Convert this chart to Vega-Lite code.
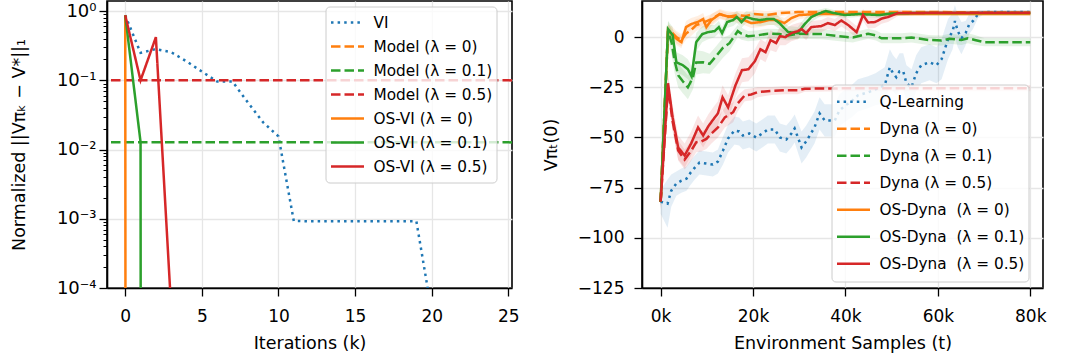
{
  "$schema": "https://vega.github.io/schema/vega-lite/v6.json",
  "background": "white",
  "padding": {"left": 9, "top": 0, "right": 0, "bottom": 0},
  "spacing": 130,
  "bounds": "flush",
  "config": {
    "font": "DejaVu Sans",
    "view": {"stroke": "black", "strokeWidth": 1.6},
    "axis": {
      "labelFont": "DejaVu Sans", "labelFontSize": 17, "labelColor": "black",
      "titleFont": "DejaVu Sans", "titleFontSize": 17.5, "titleFontWeight": "normal", "titleColor": "black",
      "domainColor": "black", "domainWidth": 1.6, "tickColor": "black", "tickWidth": 1.3, "tickSize": 8,
      "gridColor": "#e6e6e6", "gridWidth": 1.3, "labelOverlap": false, "labelFlush": false
    },
    "legend": {
      "labelFont": "DejaVu Sans", "labelFontSize": 15.3, "labelColor": "black", "labelLimit": 400,
      "symbolType": "stroke", "symbolSize": 1089, "symbolStrokeWidth": 2.5,
      "fillColor": "rgba(255,255,255,0.8)", "strokeColor": "#cccccc", "cornerRadius": 4,
      "padding": 4, "labelOffset": 8, "titlePadding": 0, "rowPadding": 0
    }
  },
  "datasets": {
    "left": [
      {"s": "VI", "k": 0, "v": 0.87}, {"s": "VI", "k": 1, "v": 0.25}, {"s": "VI", "k": 2, "v": 0.283},
      {"s": "VI", "k": 3, "v": 0.255}, {"s": "VI", "k": 4, "v": 0.188}, {"s": "VI", "k": 5, "v": 0.134},
      {"s": "VI", "k": 6, "v": 0.096}, {"s": "VI", "k": 7, "v": 0.096}, {"s": "VI", "k": 8, "v": 0.048},
      {"s": "VI", "k": 9, "v": 0.0247}, {"s": "VI", "k": 10, "v": 0.0155}, {"s": "VI", "k": 11, "v": 0.00093},
      {"s": "VI", "k": 12, "v": 0.00092}, {"s": "VI", "k": 13, "v": 0.00092}, {"s": "VI", "k": 14, "v": 0.00092},
      {"s": "VI", "k": 15, "v": 0.00092}, {"s": "VI", "k": 16, "v": 0.00092}, {"s": "VI", "k": 17, "v": 0.00092},
      {"s": "VI", "k": 18, "v": 0.00092}, {"s": "VI", "k": 19, "v": 0.00092}, {"s": "VI", "k": 20, "v": 0.000045},
      {"s": "OS-VI (λ = 0)", "k": 0, "v": 0.87}, {"s": "OS-VI (λ = 0)", "k": 1, "v": 1e-300},
      {"s": "OS-VI (λ = 0.1)", "k": 0, "v": 0.87}, {"s": "OS-VI (λ = 0.1)", "k": 1, "v": 0.0128}, {"s": "OS-VI (λ = 0.1)", "k": 2, "v": 1e-300},
      {"s": "OS-VI (λ = 0.5)", "k": 0, "v": 0.87}, {"s": "OS-VI (λ = 0.5)", "k": 1, "v": 0.1}, {"s": "OS-VI (λ = 0.5)", "k": 2, "v": 0.42},
      {"s": "OS-VI (λ = 0.5)", "k": 3, "v": 0.00005}, {"s": "OS-VI (λ = 0.5)", "k": 4, "v": 1e-300}
    ],
    "leftRef": [
      {"s": "Model (λ = 0)", "v": 1e-8},
      {"s": "Model (λ = 0.1)", "v": 0.0127},
      {"s": "Model (λ = 0.5)", "v": 0.1}
    ],
    "right": [
      {"s":"Q-Learning","t":0,"v":-82,"lo":-88,"hi":-76},
      {"s":"Q-Learning","t":1500,"v":-83,"lo":-95,"hi":-71},
      {"s":"Q-Learning","t":2300,"v":-76.5,"lo":-84.5,"hi":-68.5},
      {"s":"Q-Learning","t":3400,"v":-73,"lo":-79,"hi":-67},
      {"s":"Q-Learning","t":4500,"v":-71.5,"lo":-77.5,"hi":-65.5},
      {"s":"Q-Learning","t":5600,"v":-70.5,"lo":-76.5,"hi":-64.5},
      {"s":"Q-Learning","t":6500,"v":-67.5,"lo":-73.5,"hi":-61.5},
      {"s":"Q-Learning","t":7400,"v":-65,"lo":-71,"hi":-59},
      {"s":"Q-Learning","t":8400,"v":-62.5,"lo":-68.5,"hi":-56.5},
      {"s":"Q-Learning","t":9900,"v":-63,"lo":-69,"hi":-57},
      {"s":"Q-Learning","t":11300,"v":-63.5,"lo":-69.5,"hi":-57.5},
      {"s":"Q-Learning","t":12400,"v":-62,"lo":-68,"hi":-56},
      {"s":"Q-Learning","t":13500,"v":-56.5,"lo":-63.5,"hi":-49.5},
      {"s":"Q-Learning","t":14600,"v":-50.5,"lo":-57.5,"hi":-43.5},
      {"s":"Q-Learning","t":16000,"v":-46.5,"lo":-53.5,"hi":-39.5},
      {"s":"Q-Learning","t":17000,"v":-47,"lo":-54,"hi":-40},
      {"s":"Q-Learning","t":17800,"v":-49,"lo":-56,"hi":-42},
      {"s":"Q-Learning","t":19200,"v":-48,"lo":-55,"hi":-41},
      {"s":"Q-Learning","t":20700,"v":-50,"lo":-57,"hi":-43},
      {"s":"Q-Learning","t":22000,"v":-48,"lo":-55,"hi":-41},
      {"s":"Q-Learning","t":23200,"v":-46,"lo":-53,"hi":-39},
      {"s":"Q-Learning","t":24700,"v":-46,"lo":-53,"hi":-39},
      {"s":"Q-Learning","t":25800,"v":-50,"lo":-57,"hi":-43},
      {"s":"Q-Learning","t":27200,"v":-51,"lo":-58,"hi":-44},
      {"s":"Q-Learning","t":28300,"v":-48,"lo":-55,"hi":-41},
      {"s":"Q-Learning","t":29000,"v":-45.5,"lo":-52.5,"hi":-38.5},
      {"s":"Q-Learning","t":30500,"v":-55,"lo":-63,"hi":-47},
      {"s":"Q-Learning","t":31500,"v":-52,"lo":-60,"hi":-44},
      {"s":"Q-Learning","t":33300,"v":-45,"lo":-53,"hi":-37},
      {"s":"Q-Learning","t":34400,"v":-38,"lo":-46,"hi":-30},
      {"s":"Q-Learning","t":35500,"v":-41.5,"lo":-49.5,"hi":-33.5},
      {"s":"Q-Learning","t":37700,"v":-41.5,"lo":-49.5,"hi":-33.5},
      {"s":"Q-Learning","t":38700,"v":-36.5,"lo":-44.5,"hi":-28.5},
      {"s":"Q-Learning","t":40000,"v":-34,"lo":-42,"hi":-26},
      {"s":"Q-Learning","t":41300,"v":-32,"lo":-40,"hi":-24},
      {"s":"Q-Learning","t":42700,"v":-29,"lo":-37,"hi":-21},
      {"s":"Q-Learning","t":44900,"v":-27.5,"lo":-35.5,"hi":-19.5},
      {"s":"Q-Learning","t":46500,"v":-26,"lo":-34,"hi":-18},
      {"s":"Q-Learning","t":48500,"v":-24,"lo":-33,"hi":-15},
      {"s":"Q-Learning","t":49600,"v":-15,"lo":-24,"hi":-6},
      {"s":"Q-Learning","t":50300,"v":-18,"lo":-27,"hi":-9},
      {"s":"Q-Learning","t":51000,"v":-20,"lo":-29,"hi":-11},
      {"s":"Q-Learning","t":51700,"v":-17,"lo":-26,"hi":-8},
      {"s":"Q-Learning","t":52500,"v":-17,"lo":-26,"hi":-8},
      {"s":"Q-Learning","t":53200,"v":-23,"lo":-32,"hi":-14},
      {"s":"Q-Learning","t":54300,"v":-25,"lo":-34,"hi":-16},
      {"s":"Q-Learning","t":55300,"v":-18,"lo":-27,"hi":-9},
      {"s":"Q-Learning","t":56400,"v":-14,"lo":-23,"hi":-5},
      {"s":"Q-Learning","t":58200,"v":-12.5,"lo":-21.5,"hi":-3.5},
      {"s":"Q-Learning","t":59700,"v":-14,"lo":-23,"hi":-5},
      {"s":"Q-Learning","t":60800,"v":-11,"lo":-21,"hi":-1},
      {"s":"Q-Learning","t":61500,"v":-6,"lo":-16,"hi":4},
      {"s":"Q-Learning","t":62200,"v":-1,"lo":-11,"hi":9},
      {"s":"Q-Learning","t":63200,"v":3,"lo":-6,"hi":12},
      {"s":"Q-Learning","t":63700,"v":8,"lo":0,"hi":16},
      {"s":"Q-Learning","t":64300,"v":3,"lo":-5,"hi":11},
      {"s":"Q-Learning","t":65100,"v":-0.5,"lo":-8.5,"hi":7.5},
      {"s":"Q-Learning","t":66000,"v":2,"lo":-4,"hi":8},
      {"s":"Q-Learning","t":66800,"v":6.5,"lo":1.5,"hi":11.5},
      {"s":"Q-Learning","t":67600,"v":8,"lo":4,"hi":12},
      {"s":"Q-Learning","t":68700,"v":11.5,"lo":9.5,"hi":13.5},
      {"s":"Q-Learning","t":70000,"v":12.5,"lo":11.5,"hi":13.5},
      {"s":"Q-Learning","t":74000,"v":12.5,"lo":11.5,"hi":13.5},
      {"s":"Q-Learning","t":80000,"v":12.5,"lo":11.5,"hi":13.5},

      {"s":"Dyna (λ = 0)","t":0,"v":-82,"lo":-85,"hi":-79},
      {"s":"Dyna (λ = 0)","t":1600,"v":3,"lo":0,"hi":6},
      {"s":"Dyna (λ = 0)","t":2400,"v":2.5,"lo":-0.5,"hi":5.5},
      {"s":"Dyna (λ = 0)","t":3400,"v":0,"lo":-3,"hi":3},
      {"s":"Dyna (λ = 0)","t":4500,"v":-1.5,"lo":-4.5,"hi":1.5},
      {"s":"Dyna (λ = 0)","t":5600,"v":2,"lo":-1,"hi":5},
      {"s":"Dyna (λ = 0)","t":6600,"v":3.5,"lo":0.5,"hi":6.5},
      {"s":"Dyna (λ = 0)","t":7700,"v":6,"lo":3,"hi":9},
      {"s":"Dyna (λ = 0)","t":9000,"v":7,"lo":4.5,"hi":9.5},
      {"s":"Dyna (λ = 0)","t":11000,"v":9,"lo":6.5,"hi":11.5},
      {"s":"Dyna (λ = 0)","t":12800,"v":11.5,"lo":9.5,"hi":13.5},
      {"s":"Dyna (λ = 0)","t":14600,"v":10,"lo":8,"hi":12},
      {"s":"Dyna (λ = 0)","t":16700,"v":11,"lo":9,"hi":13},
      {"s":"Dyna (λ = 0)","t":18500,"v":10.5,"lo":8.5,"hi":12.5},
      {"s":"Dyna (λ = 0)","t":20300,"v":11.5,"lo":9.5,"hi":13.5},
      {"s":"Dyna (λ = 0)","t":23000,"v":11,"lo":9,"hi":13},
      {"s":"Dyna (λ = 0)","t":26000,"v":12,"lo":10.5,"hi":13.5},
      {"s":"Dyna (λ = 0)","t":29700,"v":12.5,"lo":11.5,"hi":13.5},
      {"s":"Dyna (λ = 0)","t":34000,"v":12.5,"lo":11.5,"hi":13.5},
      {"s":"Dyna (λ = 0)","t":40000,"v":12.5,"lo":11.5,"hi":13.5},
      {"s":"Dyna (λ = 0)","t":50000,"v":12.5,"lo":11.5,"hi":13.5},
      {"s":"Dyna (λ = 0)","t":60000,"v":12.5,"lo":11.5,"hi":13.5},
      {"s":"Dyna (λ = 0)","t":70000,"v":12.3,"lo":11.3,"hi":13.3},
      {"s":"Dyna (λ = 0)","t":80000,"v":12.3,"lo":11.3,"hi":13.3},

      {"s":"Dyna (λ = 0.1)","t":0,"v":-82,"lo":-85,"hi":-79},
      {"s":"Dyna (λ = 0.1)","t":1600,"v":3,"lo":-2,"hi":8},
      {"s":"Dyna (λ = 0.1)","t":2400,"v":-3,"lo":-9,"hi":3},
      {"s":"Dyna (λ = 0.1)","t":3000,"v":-11.6,"lo":-17.6,"hi":-5.6},
      {"s":"Dyna (λ = 0.1)","t":3800,"v":-19,"lo":-25,"hi":-13},
      {"s":"Dyna (λ = 0.1)","t":4800,"v":-22,"lo":-28,"hi":-16},
      {"s":"Dyna (λ = 0.1)","t":5900,"v":-25,"lo":-31,"hi":-19},
      {"s":"Dyna (λ = 0.1)","t":7000,"v":-20,"lo":-26,"hi":-14},
      {"s":"Dyna (λ = 0.1)","t":7700,"v":-12.6,"lo":-18.6,"hi":-6.6},
      {"s":"Dyna (λ = 0.1)","t":9200,"v":-12.5,"lo":-18,"hi":-7},
      {"s":"Dyna (λ = 0.1)","t":10600,"v":-13.3,"lo":-18.3,"hi":-8.3},
      {"s":"Dyna (λ = 0.1)","t":12000,"v":-9.5,"lo":-14.5,"hi":-4.5},
      {"s":"Dyna (λ = 0.1)","t":13500,"v":-5.3,"lo":-10.3,"hi":-0.3},
      {"s":"Dyna (λ = 0.1)","t":14900,"v":-3,"lo":-7,"hi":1},
      {"s":"Dyna (λ = 0.1)","t":16700,"v":3,"lo":0,"hi":6},
      {"s":"Dyna (λ = 0.1)","t":17500,"v":1.7,"lo":-1.3,"hi":4.7},
      {"s":"Dyna (λ = 0.1)","t":18900,"v":0.5,"lo":-2,"hi":3},
      {"s":"Dyna (λ = 0.1)","t":20700,"v":0.8,"lo":-1.7,"hi":3.3},
      {"s":"Dyna (λ = 0.1)","t":23200,"v":1.7,"lo":-0.8,"hi":4.2},
      {"s":"Dyna (λ = 0.1)","t":25700,"v":1.5,"lo":-1,"hi":4},
      {"s":"Dyna (λ = 0.1)","t":27600,"v":0.8,"lo":-1.7,"hi":3.3},
      {"s":"Dyna (λ = 0.1)","t":29700,"v":1.7,"lo":-0.8,"hi":4.2},
      {"s":"Dyna (λ = 0.1)","t":34800,"v":1.5,"lo":-1,"hi":4},
      {"s":"Dyna (λ = 0.1)","t":39800,"v":0.2,"lo":-2.3,"hi":2.7},
      {"s":"Dyna (λ = 0.1)","t":41600,"v":-0.2,"lo":-2.7,"hi":2.3},
      {"s":"Dyna (λ = 0.1)","t":44900,"v":1.7,"lo":-0.8,"hi":4.2},
      {"s":"Dyna (λ = 0.1)","t":46600,"v":0.8,"lo":-1.7,"hi":3.3},
      {"s":"Dyna (λ = 0.1)","t":47800,"v":-0.6,"lo":-3.1,"hi":1.9},
      {"s":"Dyna (λ = 0.1)","t":52000,"v":-0.6,"lo":-3.1,"hi":1.9},
      {"s":"Dyna (λ = 0.1)","t":54300,"v":-0.2,"lo":-2.7,"hi":2.3},
      {"s":"Dyna (λ = 0.1)","t":57900,"v":-1.4,"lo":-3.9,"hi":1.1},
      {"s":"Dyna (λ = 0.1)","t":60800,"v":-1.7,"lo":-4.2,"hi":0.8},
      {"s":"Dyna (λ = 0.1)","t":62500,"v":-0.8,"lo":-3.3,"hi":1.7},
      {"s":"Dyna (λ = 0.1)","t":65100,"v":-1.4,"lo":-3.9,"hi":1.1},
      {"s":"Dyna (λ = 0.1)","t":66500,"v":-0.6,"lo":-3.1,"hi":1.9},
      {"s":"Dyna (λ = 0.1)","t":68000,"v":-1.4,"lo":-3.9,"hi":1.1},
      {"s":"Dyna (λ = 0.1)","t":70100,"v":-2.5,"lo":-4.5,"hi":-0.5},
      {"s":"Dyna (λ = 0.1)","t":75000,"v":-2.5,"lo":-4.5,"hi":-0.5},
      {"s":"Dyna (λ = 0.1)","t":80000,"v":-2.5,"lo":-4.5,"hi":-0.5},

      {"s":"Dyna (λ = 0.5)","t":0,"v":-82,"lo":-86,"hi":-78},
      {"s":"Dyna (λ = 0.5)","t":1600,"v":-25,"lo":-30,"hi":-20},
      {"s":"Dyna (λ = 0.5)","t":2600,"v":-42,"lo":-47,"hi":-37},
      {"s":"Dyna (λ = 0.5)","t":3800,"v":-56.5,"lo":-61.5,"hi":-51.5},
      {"s":"Dyna (λ = 0.5)","t":5200,"v":-61,"lo":-66,"hi":-56},
      {"s":"Dyna (λ = 0.5)","t":6500,"v":-57,"lo":-62,"hi":-52},
      {"s":"Dyna (λ = 0.5)","t":7700,"v":-52.4,"lo":-57.4,"hi":-47.4},
      {"s":"Dyna (λ = 0.5)","t":8800,"v":-52,"lo":-57,"hi":-47},
      {"s":"Dyna (λ = 0.5)","t":9900,"v":-50.7,"lo":-55.7,"hi":-45.7},
      {"s":"Dyna (λ = 0.5)","t":11000,"v":-48,"lo":-53,"hi":-43},
      {"s":"Dyna (λ = 0.5)","t":12400,"v":-45,"lo":-50,"hi":-40},
      {"s":"Dyna (λ = 0.5)","t":13900,"v":-40,"lo":-45,"hi":-35},
      {"s":"Dyna (λ = 0.5)","t":15700,"v":-37.4,"lo":-42.4,"hi":-32.4},
      {"s":"Dyna (λ = 0.5)","t":16700,"v":-33,"lo":-37,"hi":-29},
      {"s":"Dyna (λ = 0.5)","t":18200,"v":-29,"lo":-32,"hi":-26},
      {"s":"Dyna (λ = 0.5)","t":19600,"v":-28.6,"lo":-31.6,"hi":-25.6},
      {"s":"Dyna (λ = 0.5)","t":21000,"v":-27.4,"lo":-30,"hi":-24.8},
      {"s":"Dyna (λ = 0.5)","t":24000,"v":-26.8,"lo":-28.8,"hi":-24.8},
      {"s":"Dyna (λ = 0.5)","t":26800,"v":-26.5,"lo":-28.5,"hi":-24.5},
      {"s":"Dyna (λ = 0.5)","t":29700,"v":-26.5,"lo":-28.5,"hi":-24.5},
      {"s":"Dyna (λ = 0.5)","t":31200,"v":-25.7,"lo":-27.2,"hi":-24.2},
      {"s":"Dyna (λ = 0.5)","t":40000,"v":-25.5,"lo":-27,"hi":-24},
      {"s":"Dyna (λ = 0.5)","t":50000,"v":-25.5,"lo":-27,"hi":-24},
      {"s":"Dyna (λ = 0.5)","t":60000,"v":-25.5,"lo":-27,"hi":-24},
      {"s":"Dyna (λ = 0.5)","t":70000,"v":-25.5,"lo":-27,"hi":-24},
      {"s":"Dyna (λ = 0.5)","t":80000,"v":-25.5,"lo":-27,"hi":-24},

      {"s":"OS-Dyna  (λ = 0)","t":0,"v":-82,"lo":-85,"hi":-79},
      {"s":"OS-Dyna  (λ = 0)","t":1600,"v":3.5,"lo":0.5,"hi":6.5},
      {"s":"OS-Dyna  (λ = 0)","t":2600,"v":1,"lo":-2,"hi":4},
      {"s":"OS-Dyna  (λ = 0)","t":3500,"v":-1,"lo":-4,"hi":2},
      {"s":"OS-Dyna  (λ = 0)","t":4500,"v":-2.5,"lo":-5.5,"hi":0.5},
      {"s":"OS-Dyna  (λ = 0)","t":5500,"v":5,"lo":2,"hi":8},
      {"s":"OS-Dyna  (λ = 0)","t":6600,"v":6.5,"lo":3.5,"hi":9.5},
      {"s":"OS-Dyna  (λ = 0)","t":8000,"v":7.5,"lo":4.5,"hi":10.5},
      {"s":"OS-Dyna  (λ = 0)","t":9200,"v":9,"lo":6,"hi":12},
      {"s":"OS-Dyna  (λ = 0)","t":9900,"v":5,"lo":2,"hi":8},
      {"s":"OS-Dyna  (λ = 0)","t":11000,"v":8.5,"lo":5.5,"hi":11.5},
      {"s":"OS-Dyna  (λ = 0)","t":12800,"v":11.5,"lo":9,"hi":14},
      {"s":"OS-Dyna  (λ = 0)","t":14200,"v":10.5,"lo":8,"hi":13},
      {"s":"OS-Dyna  (λ = 0)","t":16000,"v":10,"lo":7.5,"hi":12.5},
      {"s":"OS-Dyna  (λ = 0)","t":17500,"v":9,"lo":6.5,"hi":11.5},
      {"s":"OS-Dyna  (λ = 0)","t":19600,"v":7,"lo":4.5,"hi":9.5},
      {"s":"OS-Dyna  (λ = 0)","t":21700,"v":7.5,"lo":5,"hi":10},
      {"s":"OS-Dyna  (λ = 0)","t":23500,"v":8.5,"lo":6,"hi":11},
      {"s":"OS-Dyna  (λ = 0)","t":25000,"v":8.5,"lo":6,"hi":11},
      {"s":"OS-Dyna  (λ = 0)","t":26800,"v":7,"lo":4.5,"hi":9.5},
      {"s":"OS-Dyna  (λ = 0)","t":28300,"v":9.5,"lo":7,"hi":12},
      {"s":"OS-Dyna  (λ = 0)","t":30000,"v":11,"lo":9,"hi":13},
      {"s":"OS-Dyna  (λ = 0)","t":34000,"v":11.5,"lo":10,"hi":13},
      {"s":"OS-Dyna  (λ = 0)","t":40000,"v":11.5,"lo":10.5,"hi":12.5},
      {"s":"OS-Dyna  (λ = 0)","t":50000,"v":11.5,"lo":10.5,"hi":12.5},
      {"s":"OS-Dyna  (λ = 0)","t":60000,"v":11.5,"lo":10.5,"hi":12.5},
      {"s":"OS-Dyna  (λ = 0)","t":70000,"v":11.5,"lo":10.5,"hi":12.5},
      {"s":"OS-Dyna  (λ = 0)","t":80000,"v":11.5,"lo":10.5,"hi":12.5},

      {"s":"OS-Dyna  (λ = 0.1)","t":0,"v":-82,"lo":-85,"hi":-79},
      {"s":"OS-Dyna  (λ = 0.1)","t":1600,"v":4,"lo":0,"hi":8},
      {"s":"OS-Dyna  (λ = 0.1)","t":2600,"v":1,"lo":-3,"hi":5},
      {"s":"OS-Dyna  (λ = 0.1)","t":3400,"v":-12.5,"lo":-17.5,"hi":-7.5},
      {"s":"OS-Dyna  (λ = 0.1)","t":4800,"v":-14,"lo":-19,"hi":-9},
      {"s":"OS-Dyna  (λ = 0.1)","t":5900,"v":-16,"lo":-21,"hi":-11},
      {"s":"OS-Dyna  (λ = 0.1)","t":6700,"v":-19.5,"lo":-24.5,"hi":-14.5},
      {"s":"OS-Dyna  (λ = 0.1)","t":7700,"v":-2.5,"lo":-7,"hi":2},
      {"s":"OS-Dyna  (λ = 0.1)","t":9000,"v":1.5,"lo":-2.5,"hi":5.5},
      {"s":"OS-Dyna  (λ = 0.1)","t":10300,"v":2.5,"lo":-1,"hi":6},
      {"s":"OS-Dyna  (λ = 0.1)","t":11700,"v":3,"lo":0,"hi":6},
      {"s":"OS-Dyna  (λ = 0.1)","t":12600,"v":5,"lo":2,"hi":8},
      {"s":"OS-Dyna  (λ = 0.1)","t":13300,"v":2,"lo":-1,"hi":5},
      {"s":"OS-Dyna  (λ = 0.1)","t":14400,"v":7.5,"lo":4.5,"hi":10.5},
      {"s":"OS-Dyna  (λ = 0.1)","t":15700,"v":8.5,"lo":5.5,"hi":11.5},
      {"s":"OS-Dyna  (λ = 0.1)","t":16500,"v":10,"lo":7,"hi":13},
      {"s":"OS-Dyna  (λ = 0.1)","t":17500,"v":7.5,"lo":4.5,"hi":10.5},
      {"s":"OS-Dyna  (λ = 0.1)","t":18500,"v":10,"lo":7,"hi":13},
      {"s":"OS-Dyna  (λ = 0.1)","t":20000,"v":9,"lo":6,"hi":12},
      {"s":"OS-Dyna  (λ = 0.1)","t":21500,"v":8.5,"lo":5.5,"hi":11.5},
      {"s":"OS-Dyna  (λ = 0.1)","t":23000,"v":9,"lo":6,"hi":12},
      {"s":"OS-Dyna  (λ = 0.1)","t":24500,"v":9,"lo":6,"hi":12},
      {"s":"OS-Dyna  (λ = 0.1)","t":25700,"v":7,"lo":4,"hi":10},
      {"s":"OS-Dyna  (λ = 0.1)","t":27600,"v":2.5,"lo":-0.5,"hi":5.5},
      {"s":"OS-Dyna  (λ = 0.1)","t":29700,"v":2,"lo":-1,"hi":5},
      {"s":"OS-Dyna  (λ = 0.1)","t":31000,"v":6,"lo":3,"hi":9},
      {"s":"OS-Dyna  (λ = 0.1)","t":32600,"v":10,"lo":7.5,"hi":12.5},
      {"s":"OS-Dyna  (λ = 0.1)","t":34000,"v":11.5,"lo":9.5,"hi":13.5},
      {"s":"OS-Dyna  (λ = 0.1)","t":35700,"v":13,"lo":11.5,"hi":14.5},
      {"s":"OS-Dyna  (λ = 0.1)","t":37500,"v":12,"lo":10.5,"hi":13.5},
      {"s":"OS-Dyna  (λ = 0.1)","t":39800,"v":11,"lo":9.5,"hi":12.5},
      {"s":"OS-Dyna  (λ = 0.1)","t":43000,"v":11.5,"lo":10,"hi":13},
      {"s":"OS-Dyna  (λ = 0.1)","t":47400,"v":11,"lo":9.5,"hi":12.5},
      {"s":"OS-Dyna  (λ = 0.1)","t":50000,"v":11.8,"lo":10.8,"hi":12.8},
      {"s":"OS-Dyna  (λ = 0.1)","t":55000,"v":12,"lo":11,"hi":13},
      {"s":"OS-Dyna  (λ = 0.1)","t":60000,"v":12,"lo":11,"hi":13},
      {"s":"OS-Dyna  (λ = 0.1)","t":70000,"v":12,"lo":11,"hi":13},
      {"s":"OS-Dyna  (λ = 0.1)","t":80000,"v":12,"lo":11,"hi":13},

      {"s":"OS-Dyna  (λ = 0.5)","t":0,"v":-82,"lo":-86,"hi":-78},
      {"s":"OS-Dyna  (λ = 0.5)","t":1600,"v":-23,"lo":-28,"hi":-18},
      {"s":"OS-Dyna  (λ = 0.5)","t":2600,"v":-40,"lo":-46,"hi":-34},
      {"s":"OS-Dyna  (λ = 0.5)","t":3800,"v":-55,"lo":-61,"hi":-49},
      {"s":"OS-Dyna  (λ = 0.5)","t":5200,"v":-59,"lo":-65,"hi":-53},
      {"s":"OS-Dyna  (λ = 0.5)","t":6600,"v":-53,"lo":-59,"hi":-47},
      {"s":"OS-Dyna  (λ = 0.5)","t":8100,"v":-45,"lo":-51,"hi":-39},
      {"s":"OS-Dyna  (λ = 0.5)","t":9200,"v":-49,"lo":-55,"hi":-43},
      {"s":"OS-Dyna  (λ = 0.5)","t":10300,"v":-44.5,"lo":-50.5,"hi":-38.5},
      {"s":"OS-Dyna  (λ = 0.5)","t":11400,"v":-41,"lo":-47,"hi":-35},
      {"s":"OS-Dyna  (λ = 0.5)","t":12400,"v":-38,"lo":-44,"hi":-32},
      {"s":"OS-Dyna  (λ = 0.5)","t":13400,"v":-30,"lo":-36,"hi":-24},
      {"s":"OS-Dyna  (λ = 0.5)","t":14600,"v":-35,"lo":-41,"hi":-29},
      {"s":"OS-Dyna  (λ = 0.5)","t":16200,"v":-24,"lo":-30,"hi":-18},
      {"s":"OS-Dyna  (λ = 0.5)","t":17600,"v":-16.5,"lo":-22.5,"hi":-10.5},
      {"s":"OS-Dyna  (λ = 0.5)","t":19000,"v":-16,"lo":-22,"hi":-10},
      {"s":"OS-Dyna  (λ = 0.5)","t":20400,"v":-12,"lo":-18,"hi":-6},
      {"s":"OS-Dyna  (λ = 0.5)","t":21600,"v":-6,"lo":-11,"hi":-1},
      {"s":"OS-Dyna  (λ = 0.5)","t":22700,"v":-7.5,"lo":-12.5,"hi":-2.5},
      {"s":"OS-Dyna  (λ = 0.5)","t":23800,"v":-1.5,"lo":-6.5,"hi":3.5},
      {"s":"OS-Dyna  (λ = 0.5)","t":25000,"v":-3,"lo":-7.5,"hi":1.5},
      {"s":"OS-Dyna  (λ = 0.5)","t":25800,"v":0.5,"lo":-4,"hi":5},
      {"s":"OS-Dyna  (λ = 0.5)","t":27000,"v":0,"lo":-4,"hi":4},
      {"s":"OS-Dyna  (λ = 0.5)","t":28300,"v":2,"lo":-2,"hi":6},
      {"s":"OS-Dyna  (λ = 0.5)","t":29700,"v":3,"lo":-1,"hi":7},
      {"s":"OS-Dyna  (λ = 0.5)","t":30500,"v":4,"lo":0.5,"hi":7.5},
      {"s":"OS-Dyna  (λ = 0.5)","t":31500,"v":2,"lo":-1.5,"hi":5.5},
      {"s":"OS-Dyna  (λ = 0.5)","t":32600,"v":5,"lo":2,"hi":8},
      {"s":"OS-Dyna  (λ = 0.5)","t":34800,"v":5.5,"lo":2.5,"hi":8.5},
      {"s":"OS-Dyna  (λ = 0.5)","t":36200,"v":7,"lo":4,"hi":10},
      {"s":"OS-Dyna  (λ = 0.5)","t":37700,"v":6,"lo":3,"hi":9},
      {"s":"OS-Dyna  (λ = 0.5)","t":39100,"v":8.3,"lo":5.3,"hi":11.3},
      {"s":"OS-Dyna  (λ = 0.5)","t":40600,"v":6,"lo":3,"hi":9},
      {"s":"OS-Dyna  (λ = 0.5)","t":42400,"v":2.5,"lo":-0.5,"hi":5.5},
      {"s":"OS-Dyna  (λ = 0.5)","t":43800,"v":11,"lo":8,"hi":14},
      {"s":"OS-Dyna  (λ = 0.5)","t":44900,"v":7.3,"lo":4.3,"hi":10.3},
      {"s":"OS-Dyna  (λ = 0.5)","t":46400,"v":7.5,"lo":4.5,"hi":10.5},
      {"s":"OS-Dyna  (λ = 0.5)","t":47800,"v":9.2,"lo":6.7,"hi":11.7},
      {"s":"OS-Dyna  (λ = 0.5)","t":49200,"v":10,"lo":7.5,"hi":12.5},
      {"s":"OS-Dyna  (λ = 0.5)","t":51400,"v":12,"lo":10.5,"hi":13.5},
      {"s":"OS-Dyna  (λ = 0.5)","t":55000,"v":12,"lo":11,"hi":13},
      {"s":"OS-Dyna  (λ = 0.5)","t":60000,"v":12.2,"lo":11.2,"hi":13.2},
      {"s":"OS-Dyna  (λ = 0.5)","t":70000,"v":12.2,"lo":11.2,"hi":13.2},
      {"s":"OS-Dyna  (λ = 0.5)","t":80000,"v":12.2,"lo":11.2,"hi":13.2}
    ]
  },
  "hconcat": [
    {
      "width": 405,
      "height": 287,
      "layer": [
        {
          "data": {"name": "left"},
          "transform": [{"filter": "datum.s === 'VI'"}],
          "mark": {"type": "line", "strokeWidth": 2.5, "clip": true},
          "encoding": {
            "x": {"field": "k", "type": "quantitative",
              "scale": {"domain": [-1.19, 25.24], "nice": false, "zero": false},
              "axis": {"values": [0, 5, 10, 15, 20, 25], "title": "Iterations (k)", "labelPadding": 12, "titlePadding": 10}},
            "y": {"field": "v", "type": "quantitative",
              "scale": {"type": "log", "domain": [0.0001, 1.4], "nice": false},
              "axis": {
                "values": [0.0001,0.0002,0.0003,0.0004,0.0005,0.0006,0.0007,0.0008,0.0009,0.001,0.002,0.003,0.004,0.005,0.006,0.007,0.008,0.009,0.01,0.02,0.03,0.04,0.05,0.06,0.07,0.08,0.09,0.1,0.2,0.3,0.4,0.5,0.6,0.7,0.8,0.9,1],
                "labelExpr": "abs(log(datum.value)/LN10 - round(log(datum.value)/LN10)) > 0.001 ? '' : ['10⁻⁴','10⁻³','10⁻²','10⁻¹','10⁰'][round(log(datum.value)/LN10)+4]",
                "labelFontSize": 18,
                "tickSize": {"condition": {"test": "abs(log(datum.value)/LN10 - round(log(datum.value)/LN10)) < 0.001", "value": 8}, "value": 4},
                "tickWidth": {"condition": {"test": "abs(log(datum.value)/LN10 - round(log(datum.value)/LN10)) < 0.001", "value": 1.3}, "value": 1},
                "gridOpacity": {"condition": {"test": "abs(log(datum.value)/LN10 - round(log(datum.value)/LN10)) < 0.001", "value": 1}, "value": 0},
                "title": "Normalized ||Vπₖ − V*||₁",
                "labelPadding": 3,
                "titleX": -88, "titleY": 143.5, "titleBaseline": "middle", "titleAngle": -90
              }},
            "color": {"field": "s", "type": "nominal",
              "scale": {"domain": ["VI", "Model (λ = 0)", "Model (λ = 0.1)", "Model (λ = 0.5)", "OS-VI (λ = 0)", "OS-VI (λ = 0.1)", "OS-VI (λ = 0.5)"],
                        "range": ["#1f77b4", "#ff7f0e", "#2ca02c", "#d62728", "#ff7f0e", "#2ca02c", "#d62728"]},
              "legend": {"title": null, "orient": "none", "legendX": 218.5, "legendY": 5.5, "clipHeight": 24}},
            "strokeDash": {"field": "s", "type": "nominal",
              "scale": {"domain": ["VI", "Model (λ = 0)", "Model (λ = 0.1)", "Model (λ = 0.5)", "OS-VI (λ = 0)", "OS-VI (λ = 0.1)", "OS-VI (λ = 0.5)"],
                        "range": [[2.5, 4.1], [9.5, 4], [9.5, 4], [9.5, 4], [1, 0], [1, 0], [1, 0]]},
              "legend": {"title": null, "orient": "none", "legendX": 218.5, "legendY": 5.5, "clipHeight": 24}}
          }
        },
        {
          "data": {"name": "leftRef"},
          "mark": {"type": "rule", "strokeWidth": 2.5, "clip": true},
          "encoding": {
            "y": {"field": "v", "type": "quantitative", "scale": {"type": "log", "domain": [0.0001, 1.4], "nice": false}},
            "color": {"field": "s", "type": "nominal",
              "scale": {"domain": ["VI", "Model (λ = 0)", "Model (λ = 0.1)", "Model (λ = 0.5)", "OS-VI (λ = 0)", "OS-VI (λ = 0.1)", "OS-VI (λ = 0.5)"],
                        "range": ["#1f77b4", "#ff7f0e", "#2ca02c", "#d62728", "#ff7f0e", "#2ca02c", "#d62728"]},
              "legend": {"title": null, "orient": "none", "legendX": 218.5, "legendY": 5.5, "clipHeight": 24}},
            "strokeDash": {"field": "s", "type": "nominal",
              "scale": {"domain": ["VI", "Model (λ = 0)", "Model (λ = 0.1)", "Model (λ = 0.5)", "OS-VI (λ = 0)", "OS-VI (λ = 0.1)", "OS-VI (λ = 0.5)"],
                        "range": [[2.5, 4.1], [9.5, 4], [9.5, 4], [9.5, 4], [1, 0], [1, 0], [1, 0]]},
              "legend": {"title": null, "orient": "none", "legendX": 218.5, "legendY": 5.5, "clipHeight": 24}}
          }
        },
        {
          "data": {"name": "left"},
          "transform": [{"filter": "datum.s !== 'VI'"}],
          "mark": {"type": "line", "strokeWidth": 2.5, "clip": true},
          "encoding": {
            "x": {"field": "k", "type": "quantitative", "scale": {"domain": [-1.19, 25.24], "nice": false, "zero": false}},
            "y": {"field": "v", "type": "quantitative", "scale": {"type": "log", "domain": [0.0001, 1.4], "nice": false}},
            "color": {"field": "s", "type": "nominal",
              "scale": {"domain": ["VI", "Model (λ = 0)", "Model (λ = 0.1)", "Model (λ = 0.5)", "OS-VI (λ = 0)", "OS-VI (λ = 0.1)", "OS-VI (λ = 0.5)"],
                        "range": ["#1f77b4", "#ff7f0e", "#2ca02c", "#d62728", "#ff7f0e", "#2ca02c", "#d62728"]},
              "legend": {"title": null, "orient": "none", "legendX": 218.5, "legendY": 5.5, "clipHeight": 24}},
            "strokeDash": {"field": "s", "type": "nominal",
              "scale": {"domain": ["VI", "Model (λ = 0)", "Model (λ = 0.1)", "Model (λ = 0.5)", "OS-VI (λ = 0)", "OS-VI (λ = 0.1)", "OS-VI (λ = 0.5)"],
                        "range": [[2.5, 4.1], [9.5, 4], [9.5, 4], [9.5, 4], [1, 0], [1, 0], [1, 0]]},
              "legend": {"title": null, "orient": "none", "legendX": 218.5, "legendY": 5.5, "clipHeight": 24}}
          }
        }
      ]
    },
    {
      "width": 401,
      "height": 287,
      "data": {"name": "right"},
      "layer": [
        {
          "mark": {"type": "area", "opacity": 0.12, "clip": true},
          "encoding": {
            "x": {"field": "t", "type": "quantitative",
              "scale": {"domain": [-4030, 82750], "nice": false, "zero": false},
              "axis": {"values": [0, 20000, 40000, 60000, 80000], "labelExpr": "(datum.value/1000) + 'k'", "title": "Environment Samples (t)", "labelPadding": 12, "titlePadding": 10}},
            "y": {"field": "lo", "type": "quantitative",
              "scale": {"domain": [-125, 18], "nice": false, "zero": false},
              "axis": {"values": [-125, -100, -75, -50, -25, 0], "title": "Vπₜ(0)", "labelPadding": 10,
                       "titleX": -91, "titleY": 143.5, "titleBaseline": "middle", "titleAngle": -90}},
            "y2": {"field": "hi"},
            "fill": {"field": "s", "type": "nominal",
              "scale": {"domain": ["OS-Dyna  (λ = 0.5)", "OS-Dyna  (λ = 0.1)", "OS-Dyna  (λ = 0)", "Dyna (λ = 0.5)", "Dyna (λ = 0.1)", "Dyna (λ = 0)", "Q-Learning"],
                        "range": ["#d62728", "#2ca02c", "#ff7f0e", "#d62728", "#2ca02c", "#ff7f0e", "#1f77b4"]},
              "legend": null}
          }
        },
        {
          "mark": {"type": "line", "strokeWidth": 2.5, "clip": true},
          "encoding": {
            "x": {"field": "t", "type": "quantitative", "scale": {"domain": [-4030, 82750], "nice": false, "zero": false}},
            "y": {"field": "v", "type": "quantitative", "scale": {"domain": [-125, 18], "nice": false, "zero": false}},
            "color": {"field": "s", "type": "nominal",
              "scale": {"domain": ["Q-Learning", "Dyna (λ = 0)", "Dyna (λ = 0.1)", "Dyna (λ = 0.5)", "OS-Dyna  (λ = 0)", "OS-Dyna  (λ = 0.1)", "OS-Dyna  (λ = 0.5)"],
                        "range": ["#1f77b4", "#ff7f0e", "#2ca02c", "#d62728", "#ff7f0e", "#2ca02c", "#d62728"]},
              "legend": {"title": null, "orient": "none", "legendX": 189.5, "legendY": 83.5, "clipHeight": 26.7,
                         "labelExpr": "replace(datum.label, 'OS-Dyna  ', 'OS-Dyna\u00a0\u00a0')"}},
            "strokeDash": {"field": "s", "type": "nominal",
              "scale": {"domain": ["Q-Learning", "Dyna (λ = 0)", "Dyna (λ = 0.1)", "Dyna (λ = 0.5)", "OS-Dyna  (λ = 0)", "OS-Dyna  (λ = 0.1)", "OS-Dyna  (λ = 0.5)"],
                        "range": [[2.5, 4.1], [9.5, 4], [9.5, 4], [9.5, 4], [1, 0], [1, 0], [1, 0]]},
              "legend": {"title": null, "orient": "none", "legendX": 189.5, "legendY": 83.5, "clipHeight": 26.7,
                         "labelExpr": "replace(datum.label, 'OS-Dyna  ', 'OS-Dyna\u00a0\u00a0')"}}
          }
        }
      ]
    }
  ],
  "resolve": {
    "scale": {"color": "independent", "strokeDash": "independent", "fill": "independent"},
    "legend": {"color": "independent", "strokeDash": "independent", "fill": "independent"}
  }
}
